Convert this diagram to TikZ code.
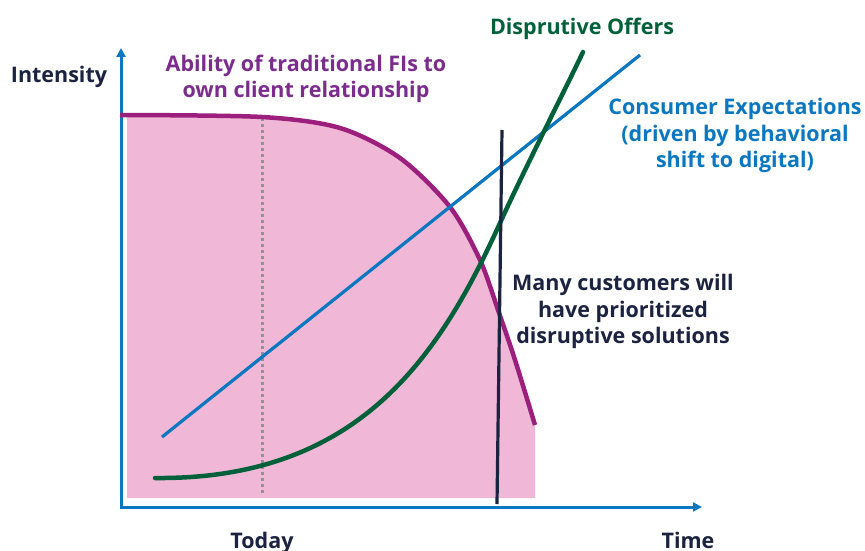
\documentclass[tikz,border=0pt]{standalone}
\usepackage{fontspec}
\setmainfont{Open Sans}
\usetikzlibrary{arrows.meta}
\definecolor{cblue}{HTML}{0A77C0}
\definecolor{cgreen}{HTML}{00603A}
\definecolor{cmag}{HTML}{9C1F7E}
\definecolor{cpurple}{HTML}{7B2C8C}
\definecolor{cpink}{HTML}{F0B8D6}
\definecolor{cnavy}{HTML}{1B2340}
\definecolor{cgrey}{HTML}{939393}
\tikzset{
  lbl/.style={font=\bfseries\fontsize{21.5}{26.5}\selectfont, align=center, inner sep=0pt},
  axis/.style={cblue, line width=3pt, -{Triangle[length=9pt,width=9pt]}},
}
\begin{document}
\begin{tikzpicture}[x=1pt,y=-1pt]
\useasboundingbox (0,0) rectangle (865,551);
% pink area
\fill[cpink] (127,115) -- plot[smooth] coordinates {(127,115) (262,117) (340,128) (400,158) (450,207) (480,260) (498,310) (515,360) (535,425)} -- (535,498) -- (127,498) -- cycle;
% today dotted
\coordinate (td) at (262,118);
\coordinate (bd) at (262,495);
\draw[cgrey, line width=3pt, dash pattern=on 3pt off 3pt] (td) -- (bd);
% axes
\coordinate (ytip) at (121,48);
\coordinate (xtip) at (702,507);
\draw[axis] (121,509) -- (ytip);
\draw[axis] (119.5,507) -- (xtip);
% magenta curve
\draw[cmag, line width=4.5pt] plot[smooth] coordinates {(120,115) (262,117) (340,128) (400,158) (450,207) (480,260) (498,310) (515,360) (535,425)};
% blue line
\coordinate (b1) at (162,437);
\coordinate (b2) at (640,55);
\draw[cblue, line width=3.2pt] (b1) -- (b2);
% green curve
\coordinate (g1) at (155,478);
\coordinate (g2) at (500,223);
\coordinate (g3) at (583,52);
\draw[cgreen, line width=4.5pt, line cap=round] (g1) .. controls (360,480) and (440,355) .. (g2) .. controls (525,168) and (565,90) .. (g3);
% black line
\coordinate (k1) at (502,130);
\coordinate (k2) at (497,504);
\draw[cnavy, line width=3.2pt] (k1) -- (k2);
% labels
\node[lbl, text=cnavy, anchor=base] (int) at (59,82) {Intensity};
\node[lbl, text=cpurple] (abil) at (306,79) {Ability of traditional FIs to\\own client relationship};
\node[lbl, text=cgreen, anchor=base] (dis) at (582,35) {Disprutive Offers};
\node[lbl, text=cblue] (cons) at (735,135.5) {Consumer Expectations\\(driven by behavioral\\shift to digital)};
\node[lbl, text=cnavy] (many) at (623,311.5) {Many customers will\\have prioritized\\disruptive solutions};
\node[lbl, text=cnavy, anchor=base] (today) at (262,548) {Today};
\node[lbl, text=cnavy, anchor=base] (time) at (688,548) {Time};
\end{tikzpicture}
\end{document}
